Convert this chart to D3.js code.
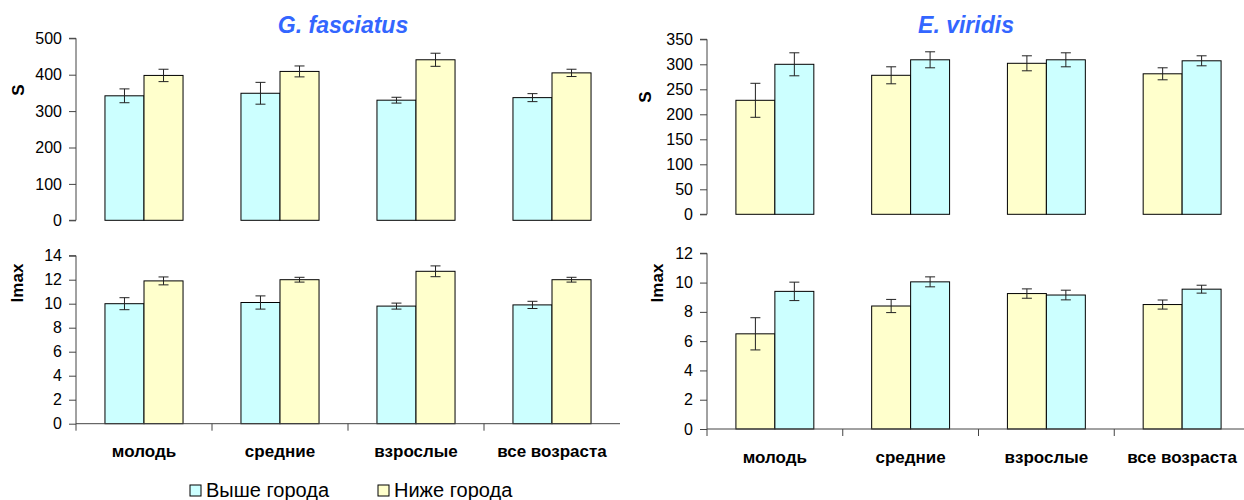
<!DOCTYPE html>
<html>
<head>
<meta charset="utf-8">
<script src="https://cdn.jsdelivr.net/npm/d3@7"></script>
<style>
  body { margin: 0; background: #fff; }
  svg { font-family: "Liberation Sans", Arial, sans-serif; }
  .tick text { font-size: 16px; fill: #000; }
  .cat { font-size: 17px; font-weight: bold; }
  .ytitle { font-size: 17px; font-weight: bold; }
  .title { font-size: 23px; font-weight: bold; font-style: italic; fill: #3366ff; }
  .legend { font-size: 20px; }
</style>
</head>
<body>
<div id="chart"></div>
<script>
// categories (age groups)
var categories = ["молодь", "средние", "взрослые", "все возраста"];
var seriesNames = ["Выше города", "Ниже города"];

// G. fasciatus, S
var gfS_above = [342, 349, 330, 337];
var gfS_aboveErr = [19, 30, 8, 11];
var gfS_below = [398, 409, 441, 405];
var gfS_belowErr = [17, 15, 18, 10];

// G. fasciatus, Imax
var gfI_above = [10.0, 10.1, 9.8, 9.9];
var gfI_aboveErr = [0.5, 0.55, 0.25, 0.3];
var gfI_below = [11.9, 12.0, 12.7, 12.0];
var gfI_belowErr = [0.33, 0.2, 0.45, 0.2];

// E. viridis, S (yellow drawn first)
var evS_below = [228, 278, 302, 281];
var evS_belowErr = [34, 17, 15, 12];
var evS_above = [300, 309, 309, 307];
var evS_aboveErr = [23, 16, 14, 10];

// E. viridis, Imax
var evI_below = [6.5, 8.4, 9.25, 8.5];
var evI_belowErr = [1.1, 0.45, 0.32, 0.31];
var evI_above = [9.4, 10.05, 9.15, 9.55];
var evI_aboveErr = [0.63, 0.34, 0.33, 0.27];

var colAbove = "#ccffff";
var colBelow = "#ffffcc";

var svg = d3.select("#chart").append("svg")
    .attr("width", 1244)
    .attr("height", 500);

/**
 * Draws one bar panel with error bars
 */
function drawPanel(p) {
    var x = d3.scaleBand().domain(categories).range([p.x0, p.x1]).paddingInner(0).paddingOuter(0);
    var bw = x.bandwidth();
    var x1 = d3.scaleBand().domain([0, 1]).range([bw * 0.213, bw * 0.787]);
    var y = d3.scaleLinear().domain([0, p.max]).range([p.yBottom, p.yTop]);

    var g = svg.append("g");

    var rows = [];
    categories.forEach(function(c, i) {
        p.series.forEach(function(s, j) {
            rows.push({cat: c, j: j, v: s.values[i], e: s.err[i], color: s.color});
        });
    });

    g.selectAll("rect.bar").data(rows).enter().append("rect")
        .attr("class", "bar")
        .attr("x", function(d) { return x(d.cat) + x1(d.j); })
        .attr("width", x1.bandwidth())
        .attr("y", function(d) { return y(d.v); })
        .attr("height", function(d) { return y(0) - y(d.v); })
        .attr("fill", function(d) { return d.color; })
        .attr("stroke", "#000")
        .attr("stroke-width", 1);

    var eb = g.selectAll("g.err").data(rows).enter().append("g").attr("class", "err")
        .attr("stroke", "#222").attr("stroke-width", 1);
    var cx = function(d) { return x(d.cat) + x1(d.j) + x1.bandwidth() / 2; };
    eb.append("line")
        .attr("x1", cx).attr("x2", cx)
        .attr("y1", function(d) { return y(d.v + d.e); })
        .attr("y2", function(d) { return y(d.v - d.e); });
    [1, -1].forEach(function(sgn) {
        eb.append("line")
            .attr("x1", function(d) { return cx(d) - 5; })
            .attr("x2", function(d) { return cx(d) + 5; })
            .attr("y1", function(d) { return y(d.v + sgn * d.e); })
            .attr("y2", function(d) { return y(d.v + sgn * d.e); });
    });

    // y axis
    var yAxis = d3.axisLeft(y).tickValues(d3.range(0, p.max + p.step / 2, p.step)).tickSize(7).tickPadding(7);
    var ya = g.append("g").attr("transform", "translate(" + p.x0 + ",0)").call(yAxis);
    ya.selectAll("path, line").attr("stroke", "#444");
    ya.select(".domain").attr("d", "M-7," + y(p.max) + "H0V" + (p.xAxis ? y(0) + 7 : y(0)) + (p.xAxis ? "" : "H-7"));

    // x axis only on the lower panels
    if (p.xAxis) {
        var xa = g.append("g").attr("stroke", "#444");
        xa.append("line").attr("x1", p.x0).attr("x2", p.x1).attr("y1", y(0)).attr("y2", y(0));
        xa.selectAll("line.xt").data(categories.slice(1)).enter().append("line")
            .attr("class", "xt")
            .attr("x1", function(d) { return x(d); }).attr("x2", function(d) { return x(d); })
            .attr("y1", y(0)).attr("y2", y(0) + 7);

        g.selectAll("text.cat").data(categories).enter().append("text")
            .attr("class", "cat")
            .attr("x", function(d) { return x(d) + bw / 2; })
            .attr("y", p.catY)
            .attr("text-anchor", "middle")
            .text(function(d) { return d; });
    }

    g.append("text").attr("class", "ytitle")
        .attr("transform", "translate(" + p.titleX + "," + p.titleY + ") rotate(-90)")
        .attr("text-anchor", "middle")
        .text(p.yTitle);

    if (p.title) {
        g.append("text").attr("class", "title")
            .attr("x", p.titleCx).attr("y", 33)
            .attr("text-anchor", "middle")
            .text(p.title);
    }
}

drawPanel({
    x0: 76, x1: 620, yTop: 38.3, yBottom: 220.3, max: 500, step: 100,
    yTitle: "S", titleX: 24, titleY: 90, title: "G. fasciatus", titleCx: 343,
    series: [{values: gfS_above, err: gfS_aboveErr, color: colAbove},
             {values: gfS_below, err: gfS_belowErr, color: colBelow}]
});
drawPanel({
    x0: 76, x1: 620, yTop: 255.7, yBottom: 423.7, max: 14, step: 2, xAxis: true, catY: 457,
    yTitle: "Imax", titleX: 23, titleY: 283,
    series: [{values: gfI_above, err: gfI_aboveErr, color: colAbove},
             {values: gfI_below, err: gfI_belowErr, color: colBelow}]
});
drawPanel({
    x0: 707, x1: 1250, yTop: 39.3, yBottom: 214.3, max: 350, step: 50,
    yTitle: "S", titleX: 651, titleY: 97, title: "E. viridis", titleCx: 966,
    series: [{values: evS_below, err: evS_belowErr, color: colBelow},
             {values: evS_above, err: evS_aboveErr, color: colAbove}]
});
drawPanel({
    x0: 707, x1: 1250, yTop: 253.3, yBottom: 429, max: 12, step: 2, xAxis: true, catY: 463,
    yTitle: "Imax", titleX: 663, titleY: 283,
    series: [{values: evI_below, err: evI_belowErr, color: colBelow},
             {values: evI_above, err: evI_aboveErr, color: colAbove}]
});

// legend
var legend = svg.append("g").attr("class", "legend");
var legendX = [190, 378];
seriesNames.forEach(function(name, i) {
    legend.append("rect")
        .attr("x", legendX[i]).attr("y", 485)
        .attr("width", 11).attr("height", 11)
        .attr("fill", i == 0 ? colAbove : colBelow)
        .attr("stroke", "#000");
    legend.append("text")
        .attr("x", legendX[i] + 16).attr("y", 497)
        .text(name);
});
</script>
</body>
</html>
